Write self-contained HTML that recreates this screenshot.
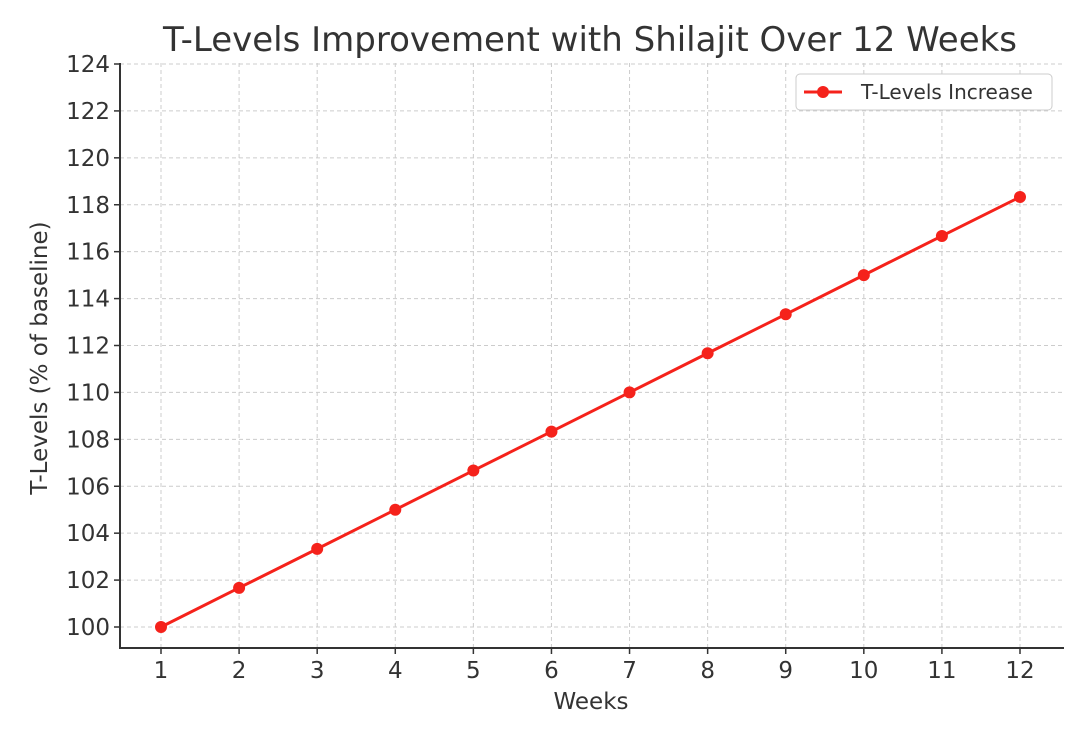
<!DOCTYPE html>
<html><head><meta charset="utf-8"><style>
body{margin:0;background:#fff;}
svg{display:block;font-family:"DejaVu Sans","Liberation Sans",sans-serif;}
</style></head><body>
<svg id="chart" width="1080" height="729">
<text x="590" y="51" text-anchor="middle" font-size="34" fill="#333">T-Levels Improvement with Shilajit Over 12 Weeks</text>
<g id="grid"></g>
<g id="axes"></g>
<g id="series"></g>
<text x="591" y="709" text-anchor="middle" font-size="23" fill="#333">Weeks</text>
<text transform="translate(47,358) rotate(-90)" text-anchor="middle" font-size="23" fill="#333">T-Levels (% of baseline)</text>
<g>
<rect x="796" y="74" width="256" height="36" rx="4" fill="#fff" stroke="#ccc"/>
<line x1="804" y1="92" x2="842" y2="92" stroke="#f5221b" stroke-width="3"/>
<circle cx="823" cy="92" r="6" fill="#f5221b"/>
<text x="861" y="99" font-size="20" fill="#333">T-Levels Increase</text>
</g>
</svg>
<script>
const weeks=[1,2,3,4,5,6,7,8,9,10,11,12];
const tLevels=[100,101.67,103.33,105,106.67,108.33,110,111.67,113.33,115,116.67,118.33];
const yTicks=[100,102,104,106,108,110,112,114,116,118,120,122,124];
const NS="http://www.w3.org/2000/svg";
const X=v=>161+(v-1)*(1020-161)/11;
const Y=v=>627-(v-100)*(627-64)/24;
function mk(tag,attrs,parent){const e=document.createElementNS(NS,tag);for(const k in attrs)e.setAttribute(k,attrs[k]);parent.appendChild(e);return e;}
const grid=document.getElementById('grid'),axes=document.getElementById('axes'),series=document.getElementById('series');
mk('line',{x1:120,y1:63,x2:120,y2:648,stroke:'#333','stroke-width':2},axes);
mk('line',{x1:119,y1:648,x2:1064,y2:648,stroke:'#333','stroke-width':2},axes);
yTicks.forEach(t=>{
 const y=Y(t);
 const g=mk('line',{x1:120,y1:y,x2:1063,y2:y,stroke:'#ccc','stroke-dasharray':'4,3','stroke-width':1},grid);
 
 
 mk('line',{x1:114,y1:y,x2:120,y2:y,stroke:'#333','stroke-width':1.5},axes);
 const tx=mk('text',{x:110,y:y+8,'text-anchor':'end','font-size':23,fill:'#333'},axes);
 tx.textContent=t;
 
 
});
weeks.forEach(w=>{
 const x=X(w);
 const g=mk('line',{x1:x,y1:63,x2:x,y2:648,stroke:'#ccc','stroke-dasharray':'4,3','stroke-width':1},grid);
 
 
 mk('line',{x1:x,y1:648,x2:x,y2:654,stroke:'#333','stroke-width':1.5},axes);
 const tx=mk('text',{x:x,y:678,'text-anchor':'middle','font-size':23,fill:'#333'},axes);
 tx.textContent=w;
 
 
});
const pl=mk('polyline',{points:weeks.map((w,i)=>X(w)+','+Y(tLevels[i])).join(' '),fill:'none',stroke:'#f5221b','stroke-width':3},series);


weeks.forEach((w,i)=>{
 const c=mk('circle',{cx:X(w),cy:Y(tLevels[i]),r:6,fill:'#f5221b'},series);
 
 
});
</script>
</body></html>
